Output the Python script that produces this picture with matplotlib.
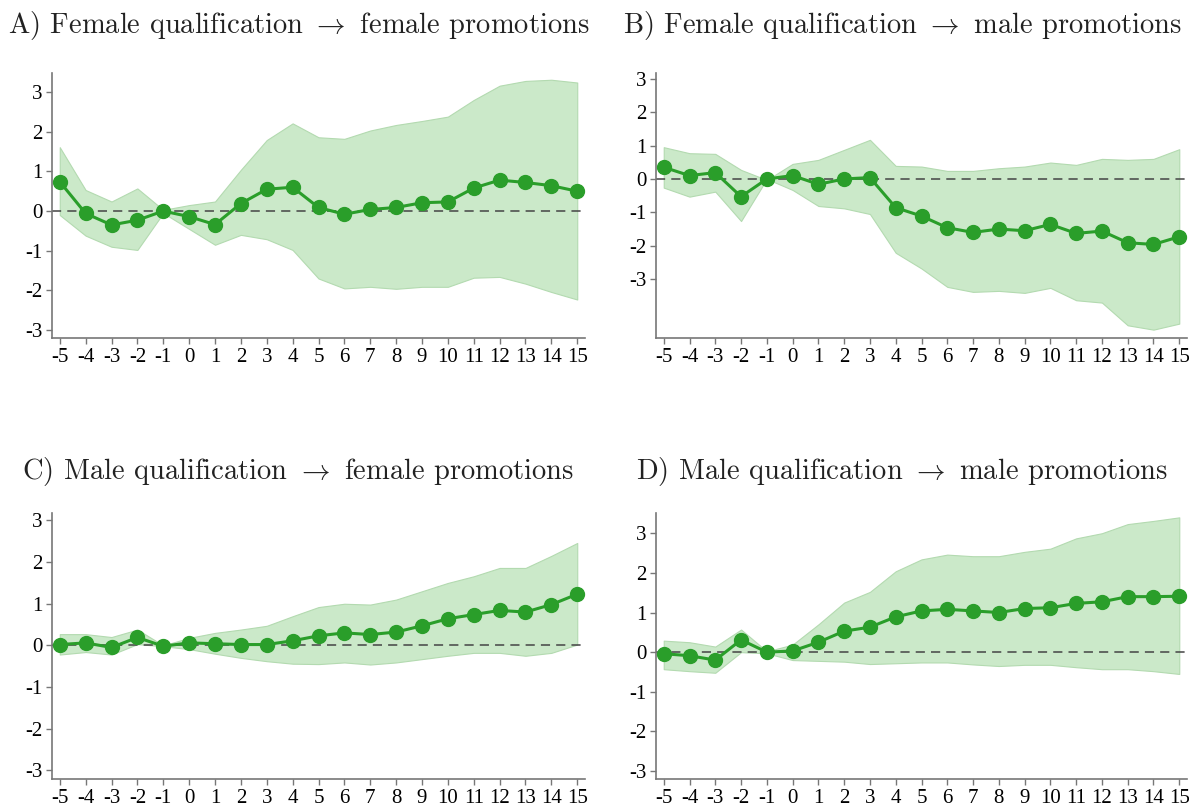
import matplotlib
matplotlib.use('Agg')
import matplotlib.pyplot as plt

plt.rcParams['mathtext.fontset'] = 'cm'

periods = list(range(-5, 16))
tick_labels = ['-5', '-4', '-3', '-2', '-1', '0', '1', '2', '3', '4', '5',
               '6', '7', '8', '9', '10', '11', '12', '13', '14', '15']

# A) female qualification -> female promotions
a_est = [0.74, -0.06, -0.35, -0.23, 0.0, -0.14, -0.34, 0.19, 0.55, 0.60, 0.09,
         -0.08, 0.04, 0.09, 0.21, 0.23, 0.58, 0.78, 0.72, 0.64, 0.50]
a_hi = [1.61, 0.53, 0.24, 0.57, 0.03, 0.15, 0.24, 1.04, 1.79, 2.21, 1.86,
        1.82, 2.03, 2.17, 2.27, 2.38, 2.80, 3.16, 3.28, 3.31, 3.24]
a_lo = [-0.10, -0.62, -0.90, -0.98, -0.05, -0.45, -0.85, -0.60, -0.71, -0.98, -1.70,
        -1.95, -1.91, -1.96, -1.91, -1.91, -1.68, -1.66, -1.83, -2.04, -2.23]

# B) female qualification -> male promotions
b_est = [0.35, 0.10, 0.19, -0.53, 0.0, 0.10, -0.16, 0.0, 0.04, -0.86, -1.11,
         -1.46, -1.60, -1.50, -1.55, -1.36, -1.63, -1.56, -1.91, -1.96, -1.73]
b_hi = [0.95, 0.77, 0.75, 0.27, -0.03, 0.45, 0.57, 0.87, 1.17, 0.39, 0.37,
        0.24, 0.24, 0.32, 0.37, 0.49, 0.42, 0.60, 0.57, 0.60, 0.89]
b_lo = [-0.26, -0.53, -0.38, -1.26, 0.0, -0.33, -0.81, -0.88, -1.05, -2.21, -2.68,
        -3.23, -3.38, -3.35, -3.41, -3.26, -3.63, -3.70, -4.38, -4.51, -4.33]

# C) male qualification -> female promotions
c_est = [0.02, 0.06, -0.05, 0.19, -0.02, 0.06, 0.04, 0.02, 0.02, 0.11, 0.23,
         0.30, 0.26, 0.32, 0.47, 0.64, 0.74, 0.84, 0.80, 0.98, 1.23]
c_hi = [0.27, 0.27, 0.20, 0.38, 0.0, 0.18, 0.30, 0.38, 0.47, 0.70, 0.92,
        1.00, 0.98, 1.10, 1.30, 1.50, 1.66, 1.86, 1.86, 2.15, 2.46]
c_lo = [-0.22, -0.16, -0.22, 0.03, -0.02, -0.09, -0.20, -0.30, -0.38, -0.44, -0.45,
        -0.41, -0.46, -0.41, -0.33, -0.25, -0.18, -0.18, -0.25, -0.18, 0.02]

# D) male qualification -> male promotions
d_est = [-0.04, -0.09, -0.20, 0.31, 0.0, 0.03, 0.25, 0.53, 0.63, 0.89, 1.04,
         1.08, 1.04, 1.00, 1.10, 1.12, 1.23, 1.27, 1.40, 1.40, 1.41]
d_hi = [0.29, 0.25, 0.14, 0.57, 0.02, 0.19, 0.70, 1.25, 1.52, 2.04, 2.34,
        2.46, 2.42, 2.42, 2.53, 2.61, 2.87, 3.00, 3.23, 3.31, 3.40]
d_lo = [-0.43, -0.48, -0.52, 0.0, -0.03, -0.20, -0.22, -0.24, -0.30, -0.28, -0.26,
        -0.26, -0.31, -0.35, -0.32, -0.32, -0.38, -0.43, -0.43, -0.48, -0.55]

titles = [r'A) Female qualification $\rightarrow$ female promotions',
          r'B) Female qualification $\rightarrow$ male promotions',
          r'C) Male qualification $\rightarrow$ female promotions',
          r'D) Male qualification $\rightarrow$ male promotions']

W, H = 1189, 807
fig = plt.figure(figsize=(W / 100, H / 100), dpi=100)


def px_axes(x0, y0, x1, y1):
    return fig.add_axes([x0 / W, 1 - y1 / H, (x1 - x0) / W, (y1 - y0) / H])


def draw(ax, est, hi, lo, ylim):
    ax.fill_between(periods, lo, hi, facecolor='#cbe9c9', edgecolor='#b3dab0',
                    linewidth=0.8, zorder=1)
    ax.axhline(0, color='#444444', linestyle=(0, (6, 4)), linewidth=1.1, zorder=2)
    ax.plot(periods, est, color='#2a9e2a', linewidth=2.2, marker='o',
            markersize=10, zorder=3)
    ax.set_xlim(-5.3, 15.3)
    ax.set_ylim(*ylim)
    ax.set_xticks(periods)
    ax.set_xticklabels(tick_labels)
    ax.set_yticks([-3, -2, -1, 0, 1, 2, 3])
    ax.set_yticklabels(['-3', '-2', '-1', '0', '1', '2', '3'])
    for s in ['top', 'right']:
        ax.spines[s].set_visible(False)
    for s in ['left', 'bottom']:
        ax.spines[s].set_color('#777777')
        ax.spines[s].set_linewidth(1.2)
    ax.tick_params(colors='#777777', length=4, width=1, labelcolor='black',
                   labelsize=15, pad=3)
    for lab in ax.get_xticklabels() + ax.get_yticklabels():
        lab.set_family('Liberation Serif')


ax_a = px_axes(52, 73, 585, 338)
draw(ax_a, a_est, a_hi, a_lo, (-3.2, 3.48))
ax_b = px_axes(656, 73, 1187, 338)
draw(ax_b, b_est, b_hi, b_lo, (-4.76, 3.17))
ax_c = px_axes(52, 513, 585, 779)
draw(ax_c, c_est, c_hi, c_lo, (-3.21, 3.18))
ax_d = px_axes(656, 513, 1187, 779)
draw(ax_d, d_est, d_hi, d_lo, (-3.2, 3.51))

title_pos = [(8, 26), (623, 26), (22, 471), (636, 471)]
for t, (x, y) in zip(titles, title_pos):
    fig.text(x / W, 1 - y / H, t, family='cmr10', fontsize=20.5, va='center',
             ha='left', color='#222222')

fig.savefig('out.png', dpi=100)
